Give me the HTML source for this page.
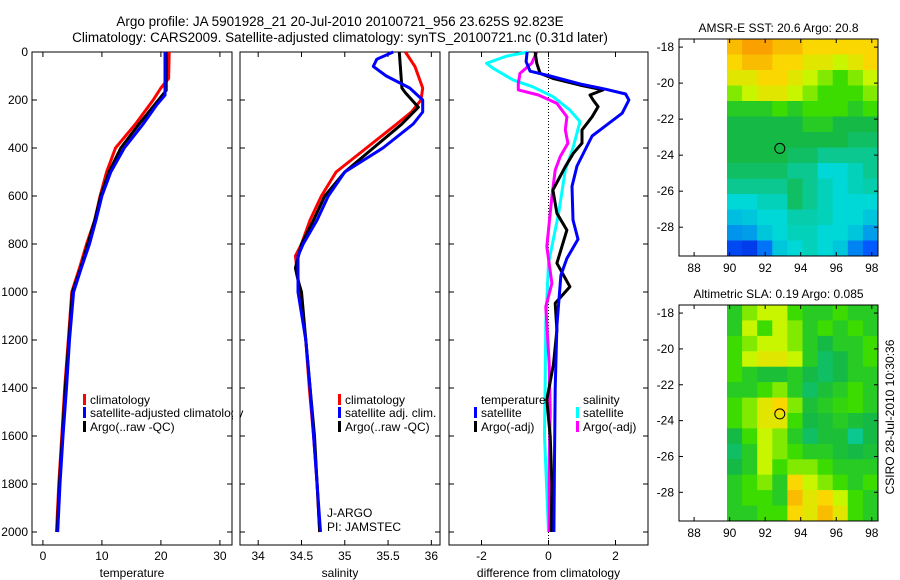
<!DOCTYPE html>
<html><head><meta charset="utf-8"><style>
html,body{margin:0;padding:0;background:#fff;}
svg{display:block;font-family:"Liberation Sans",sans-serif;}
</style></head><body>
<svg id="c" width="900" height="580" xmlns="http://www.w3.org/2000/svg">
<text x="340" y="26" text-anchor="middle" font-size="13.5">Argo profile: JA 5901928_21 20-Jul-2010 20100721_956 23.625S 92.823E</text>
<text x="340" y="42" text-anchor="middle" font-size="13.5">Climatology: CARS2009. Satellite-adjusted climatology: synTS_20100721.nc (0.31d later)</text>
<g id="g"></g>
</svg>
<script>
// ---- data ----
const depthTicks=[0,200,400,600,800,1000,1200,1400,1600,1800,2000];
const tempTicks=[0,10,20,30];
const salTicks=[34,34.5,35,35.5,36];
const salTickLabels=["34","34.5","35","35.5","36"];
const diffTicks=[-2,0,2];
const tClimD=[0,110,150,200,300,400,500,600,700,800,900,1000,1200,1400,1600,1800,2000];
const tClimV=[21.4,21.3,20,18.7,15.7,12.3,10.8,9.7,8.8,7.4,6.2,4.9,4.3,3.7,3.2,2.7,2.3];
const tSatD=[0,180,220,300,400,500,600,700,800,900,1000,1200,1400,1600,1800,2000];
const tSatV=[20.7,20.7,19.3,17,13.8,11.5,10,9,7.9,6.5,5.2,4.5,4,3.4,2.9,2.5];
const tArgoD=[0,160,200,300,400,500,600,700,800,900,1000,1200,1400,1600,1800,2000];
const tArgoV=[20.9,20.9,19.6,16.3,13.2,11.2,9.8,8.8,7.6,6.4,5.0,4.4,3.8,3.3,2.8,2.4];
const sClimD=[0,60,150,200,250,300,400,500,600,700,800,850,1000,1200,1400,1600,1800,2000];
const sClimV=[35.70,35.81,35.90,35.88,35.77,35.6,35.25,34.9,34.73,34.6,34.5,34.43,34.48,34.55,34.59,34.64,34.68,34.71];
const sArgoD=[0,150,170,230,300,400,500,600,700,800,900,950,1000,1200,1400,1600,1800,2000];
const sArgoV=[35.63,35.66,35.7,35.85,35.66,35.33,35.0,34.77,34.64,34.5,34.43,34.46,34.5,34.55,34.6,34.65,34.68,34.71];
const sSatD=[0,30,60,100,150,200,250,300,400,500,600,700,800,850,1000,1200,1400,1600,1800,2000];
const sSatV=[35.56,35.37,35.33,35.48,35.75,35.9,35.9,35.79,35.44,35.0,34.81,34.68,34.52,34.46,34.46,34.55,34.6,34.64,34.68,34.72];
const dTSatD=[0,40,80,100,135,155,175,200,255,350,475,560,700,780,860,930,1140,1400,1700,2000];
const dTSatV=[-0.64,-0.67,-0.55,0.05,1.0,1.7,2.3,2.4,2.2,1.3,0.85,0.7,0.73,0.88,0.55,0.37,0.25,0.2,0.18,0.16];
const dTArgoD=[0,47,89,110,138,158,179,200,228,270,325,380,422,478,575,672,742,811,880,978,1047,1158,1300,1450,1600,1800,2000];
const dTArgoV=[-0.4,-0.35,-0.25,0.13,0.94,1.63,1.24,1.33,1.48,1.3,1.0,1.0,0.74,0.5,0.13,0.25,0.55,0.4,0.25,0.64,0.2,0.25,0.15,-0.05,0.05,0.1,0.08];
const dSSatD=[0,17,47,68,117,145,186,242,290,395,492,672,880,1130,1400,1600,1800,2000];
const dSSatV=[-0.6,-1.25,-1.85,-1.65,-1.05,-0.47,0.13,0.64,0.94,0.74,0.5,0.3,0,-0.08,-0.1,-0.12,-0.06,0];
const dSArgoD=[0,47,89,131,158,179,214,270,325,380,436,492,603,811,964,1061,1300,1500,1700,2000];
const dSArgoV=[-0.35,-0.5,-0.85,-0.9,-0.9,-0.3,0.25,0.55,0.5,0.58,0.35,0.2,0.1,-0.05,0.1,-0.08,0.02,0.05,0.02,0.02];
const lonTicks=[88,90,92,94,96,98];
const latTicks=[-18,-20,-22,-24,-26,-28];
const sstGrid=[
[7.5,8,8,7.5,7.5,7,7,7,7,7],
[7,7.5,7.5,7,7,6.5,6.5,6,6.5,7],
[6.5,6.5,7,7,6.5,6,5.5,5,5.5,6],
[5.5,6,6.5,6.5,6,5.5,5,5,5,5.5],
[4.5,4.5,4.5,5,4.5,5,5,5,4.5,5],
[4,4,4,4,4,4.5,4.5,4,4,4],
[4,4,4,4,4,4,4,4,3.8,3.8],
[4,4,4,4,3.8,3.8,3.5,3.5,3.5,3.5],
[3.8,3.8,3.8,3.8,3.5,3.5,3,3,3.2,3.5],
[3.5,3.5,3.5,3.5,3.8,3.5,3.2,3,3.2,3.3],
[3,3,3.2,3.2,3.8,3.5,3.2,3,3,3],
[2.7,2.8,3,3,3.3,3.3,3.2,3,3,2.8],
[2.2,2.3,2.8,3,3.2,3.2,3,3,2.8,2.3],
[1.2,1,1.8,2.8,3,3.2,3,2.8,2,1.5]];
const slaGrid=[
[4.5,5.5,6,6,5,4.5,4.5,5,4.5,4.5],
[4.5,6,5,6,5.5,4.5,5,4.5,5,4.5],
[5,5.5,6,6,5.5,4.5,4,4.5,4.5,5],
[5,6,6.5,6.5,6,4.5,3.8,4,4.5,5],
[5,4.5,4.2,4.2,4.5,4,3.8,4,4.5,4.5],
[4.5,4.5,5,5.5,4.5,3.8,4.2,4.5,5,4.5],
[5,5.5,6.5,7,5.5,4.2,4.5,4.8,5,4.5],
[5,5.5,6.5,6.5,5,4,4.2,4.5,4.2,4],
[4,5,6,5.5,4.5,3.8,4.2,4.2,3.5,4],
[3.8,4.5,6,5.5,5,4.5,4.5,4.2,4,4.2],
[4,4.5,6,5,5.5,5.5,5,4.5,4.5,4.5],
[4.5,5,5.5,4.5,7,6,5.5,5,4.5,5],
[4.5,5,5,4.5,7.5,6.5,7,6,5,4.5],
[4.5,4.5,5,5,7,6.5,7.5,6.5,5,4.5]];
const floatLon=92.823, floatLat=-23.625;

// ---- drawing ----
const NS="http://www.w3.org/2000/svg";
const G=document.getElementById('g');
function mk(tag,attrs,parent){const e=document.createElementNS(NS,tag);for(const k in attrs)e.setAttribute(k,attrs[k]);(parent||G).appendChild(e);return e;}
const yTop=52,pxPerM=0.24,yBot=545;
function yD(d){return yTop+d*pxPerM;}
const panels=[
 {name:'temperature-panel',x0:32,x1:232,v0:-1.85,v1:32.05,ticks:tempTicks,labels:tempTicks.map(String),title:'temperature'},
 {name:'salinity-panel',x0:240,x1:440,v0:33.79,v1:36.1,ticks:salTicks,labels:salTickLabels,title:'salinity'},
 {name:'difference-panel',x0:449,x1:648,v0:-2.97,v1:2.97,ticks:diffTicks,labels:diffTicks.map(String),title:'difference from climatology'}];
panels.forEach((p,i)=>{
 p.x=v=>p.x0+(v-p.v0)/(p.v1-p.v0)*(p.x1-p.x0);
 const g=mk('g',{});
 
 
 mk('rect',{x:p.x0,y:yTop,width:p.x1-p.x0,height:yBot-yTop,fill:'#fff',stroke:'#000','stroke-width':1},g);
 p.ticks.forEach((t,j)=>{const x=p.x(t);
  mk('line',{x1:x,x2:x,y1:yBot,y2:yBot-5,stroke:'#000'},g);
  mk('line',{x1:x,x2:x,y1:yTop,y2:yTop+5,stroke:'#000'},g);
  const tl=mk('text',{x:x,y:yBot+15,'text-anchor':'middle','font-size':12},g);tl.textContent=p.labels[j];
  
  });
 depthTicks.forEach(d=>{const y=yD(d);
  mk('line',{x1:p.x0,x2:p.x0+5,y1:y,y2:y,stroke:'#000'},g);
  mk('line',{x1:p.x1,x2:p.x1-5,y1:y,y2:y,stroke:'#000'},g);
  if(i===0){const tl=mk('text',{x:28,y:y+4,'text-anchor':'end','font-size':12},g);tl.textContent=String(d);
   
   }});
 const tt=mk('text',{x:(p.x0+p.x1)/2,y:577,'text-anchor':'middle','font-size':12},g);tt.textContent=p.title;
 
 
});
function line(p,D,V,color,w,name){
 const pts=D.map((d,k)=>p.x(V[k]).toFixed(1)+','+yD(d).toFixed(1)).join(' ');
 const e=mk('polyline',{points:pts,fill:'none',stroke:color,'stroke-width':w,'stroke-linejoin':'round'});
 
 
}
const P=panels;
// zero line
const z=mk('line',{x1:P[2].x(0),x2:P[2].x(0),y1:yTop,y2:yBot,stroke:'#000','stroke-dasharray':'1,2'});


line(P[0],tClimD,tClimV,'#f00',3,'temp-climatology-line');
line(P[0],tArgoD,tArgoV,'#000',3,'temp-argo-line');
line(P[0],tSatD,tSatV,'#00f',3,'temp-satellite-line');
line(P[1],sClimD,sClimV,'#f00',3,'sal-climatology-line');
line(P[1],sArgoD,sArgoV,'#000',3,'sal-argo-line');
line(P[1],sSatD,sSatV,'#00f',3,'sal-satellite-line');
line(P[2],dSSatD,dSSatV,'#0ff',3,'diff-sal-satellite-line');
line(P[2],dSArgoD,dSArgoV,'#f0f',3,'diff-sal-argo-line');
line(P[2],dTArgoD,dTArgoV,'#000',3,'diff-temp-argo-line');
line(P[2],dTSatD,dTSatV,'#00f',3,'diff-temp-satellite-line');
// legends
function leg(x,y,color,text,clipW){
 const g=mk('g',{});
 
 
 if(color)mk('rect',{x:x,y:y-10,width:3,height:11,fill:color},g);
 const t=mk('text',{x:x+7,y:y,'font-size':12},g);t.textContent=text;
}
leg(83,404,'#f00','climatology');leg(83,417,'#00f','satellite-adjusted climatology');leg(83,431,'#000','Argo(..raw -QC)');
// cover overflow into gap
const cv=mk('rect',{x:233,y:395,width:6.5,height:40,fill:'#fff'});


mk('line',{x1:240,x2:240,y1:390,y2:440,stroke:'#000'});
leg(338,404,'#f00','climatology');leg(338,417,'#00f','satellite adj. clim.');leg(338,431,'#000','Argo(..raw -QC)');
leg(474,404,null,'temperature');leg(474,417,'#00f','satellite');leg(474,431,'#000','Argo(-adj)');
leg(576,404,null,'salinity');leg(576,417,'#0ff','satellite');leg(576,431,'#f0f','Argo(-adj)');
const j1=mk('text',{x:327,y:517,'font-size':12});j1.textContent='J-ARGO';


const j2=mk('text',{x:327,y:531,'font-size':12});j2.textContent='PI: JAMSTEC';


// maps
const stops=[[0,[0,0,190]],[1.5,[0,90,255]],[3,[0,215,215]],[4,[20,185,70]],[5,[60,220,0]],[6,[200,245,0]],[7,[250,215,0]],[8,[250,160,0]]];
function cmap(v){for(let k=1;k<stops.length;k++){if(v<=stops[k][0]){const a=stops[k-1],b=stops[k],t=(v-a[0])/(b[0]-a[0]);return 'rgb('+a[1].map((c,m)=>Math.round(c+(b[1][m]-c)*t)).join(',')+')';}}return 'rgb(250,160,0)';}
function map(top,bot,grid,title,name){
 const L=679,R=878,lon0=87.15,lon1=98.35,latTop=-17.55,latBot=-29.6;
 const xl=v=>L+(v-lon0)/(lon1-lon0)*(R-L), yl=v=>top+(v-latTop)/(latBot-latTop)*(bot-top);
 const g=mk('g',{});
 
 
 const rows=grid.length,cols=grid[0].length,gl0=89.85,gl1=98.35;
 grid.forEach((row,r)=>row.forEach((v,c)=>{
  const x0=xl(gl0+(gl1-gl0)*c/cols),x1=xl(gl0+(gl1-gl0)*(c+1)/cols);
  const y0=yl(latTop+(latBot-latTop)*r/rows),y1=yl(latTop+(latBot-latTop)*(r+1)/rows);
  const e=mk('rect',{x:x0.toFixed(1),y:y0.toFixed(1),width:(x1-x0+0.5).toFixed(1),height:(y1-y0+0.5).toFixed(1),fill:cmap(v)},g);
  
  
 }));
 mk('rect',{x:L,y:top,width:R-L,height:bot-top,fill:'none',stroke:'#000'},g);
 lonTicks.forEach(t=>{const x=xl(t);mk('line',{x1:x,x2:x,y1:bot,y2:bot-4,stroke:'#000'},g);mk('line',{x1:x,x2:x,y1:top,y2:top+4,stroke:'#000'},g);
  const tl=mk('text',{x:x,y:bot+16,'text-anchor':'middle','font-size':12,fill:'#000'},g);tl.textContent=String(t);
  
  });
 latTicks.forEach(t=>{const y=yl(t);mk('line',{x1:L,x2:L+4,y1:y,y2:y,stroke:'#000'},g);mk('line',{x1:R,x2:R-4,y1:y,y2:y,stroke:'#000'},g);
  const tl=mk('text',{x:L-5,y:y+4,'text-anchor':'end','font-size':12},g);tl.textContent=String(t);
  
  });
 const c=mk('ellipse',{cx:xl(floatLon),cy:yl(floatLat),rx:5,ry:5,fill:'none',stroke:'#000'},g);
 
 
 const tt=mk('text',{x:(L+R)/2,y:top-7,'text-anchor':'middle','font-size':12},g);tt.textContent=title;
 
 
}
map(39,256,sstGrid,'AMSR-E SST: 20.6 Argo: 20.8','sst-map');
map(305,521,slaGrid,'Altimetric SLA: 0.19 Argo: 0.085','sla-map');
const cs=mk('text',{x:0,y:0,'text-anchor':'middle','font-size':12,transform:'translate(894,417) rotate(-90)'});
cs.textContent='CSIRO 28-Jul-2010 10:30:36';


</script>
</body></html>
